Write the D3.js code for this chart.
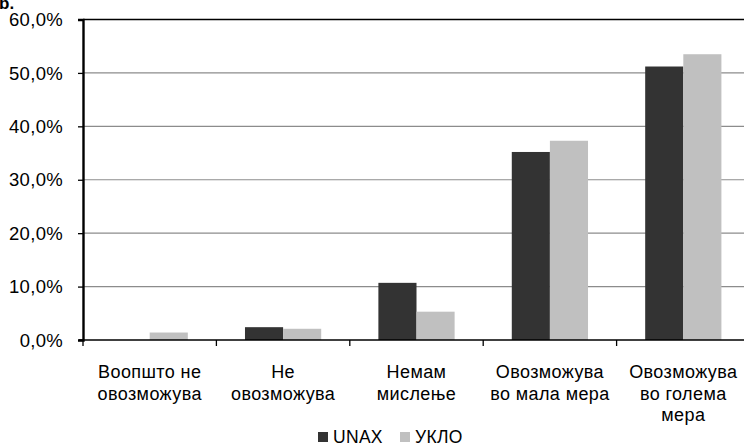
<!DOCTYPE html>
<html>
<head>
<meta charset="utf-8">
<script src="https://cdn.jsdelivr.net/npm/d3@7"></script>
<style>
  html, body { margin: 0; padding: 0; background: #fff; overflow: hidden; }
  svg { display: block; font-family: "Liberation Sans", Arial, sans-serif; }
</style>
</head>
<body>
<div id="chart"></div>
<script>
const categories = [
    ["Воопшто не", "овозможува"],
    ["Не", "овозможува"],
    ["Немам", "мислење"],
    ["Овозможува", "во мала мера"],
    ["Овозможува", "во голема", "мера"]
];
const seriesNames = ["UNAX", "УКЛО"];
const unax = [0, 2.4, 10.7, 35.2, 51.2];
const uklo = [1.4, 2.1, 5.3, 37.3, 53.5];
const yTicks = [0, 10, 20, 30, 40, 50, 60];
const colors = ["#333333", "#c0c0c0"];

const width = 744, height = 446;
const margin = {top: 19.5, left: 83, right: -6, bottom: 106};

const svg = d3.select("#chart").append("svg")
    .attr("width", width)
    .attr("height", height);

// caption cut off at the top left, as in the source
svg.append("text")
    .attr("x", -1).attr("y", 9)
    .style("font-size", "17px").attr("font-weight", "bold")
    .text("b.");

const x = d3.scaleBand()
    .domain(d3.range(categories.length))
    .range([margin.left, width - margin.right]);

const y = d3.scaleLinear()
    .domain([0, 60])
    .range([height - margin.bottom, margin.top]);

const x1 = d3.scaleBand()
    .domain(d3.range(seriesNames.length))
    .range([0, x.bandwidth()])
    .paddingInner(0)
    .paddingOuter(0.75);

// gridlines
svg.append("g")
    .selectAll("line")
    .data(yTicks.filter(t => t > 0 && t < 60))
    .join("line")
    .attr("x1", margin.left).attr("x2", width)
    .attr("y1", d => y(d)).attr("y2", d => y(d))
    .attr("stroke", "#8c8c8c").attr("stroke-width", 1.2);

// top border
svg.append("line")
    .attr("x1", margin.left).attr("x2", width)
    .attr("y1", y(60)).attr("y2", y(60))
    .attr("stroke", "#000").attr("stroke-width", 1.5);

// bars
const rows = [unax, uklo];
rows.forEach((vals, s) => {
    svg.append("g")
        .attr("fill", colors[s])
        .selectAll("rect")
        .data(vals)
        .join("rect")
        .attr("x", (d, i) => x(i) + x1(s))
        .attr("y", d => y(d))
        .attr("width", x1.bandwidth())
        .attr("height", d => y(0) - y(d));
});

// y axis (ticks from d3, labels drawn with the same scale)
const yAxis = svg.append("g")
    .attr("transform", `translate(${margin.left},0)`)
    .call(d3.axisLeft(y).tickValues(yTicks).tickSize(5).tickFormat(""));
yAxis.select(".domain").attr("stroke-width", 2.4);
yAxis.selectAll(".tick line").attr("stroke-width", 1.3);

svg.append("g")
    .attr("text-anchor", "end")
    .style("font-size", "18.5px")
    .style("letter-spacing", "0.3px")
    .selectAll("text")
    .data(yTicks)
    .join("text")
    .attr("x", margin.left - 20)
    .attr("y", d => y(d))
    .attr("dy", "0.36em")
    .text(d => d.toFixed(1).replace(".", ",") + "%");

// x axis
const xTickPos = d3.range(categories.length + 1).map(i => margin.left + i * x.bandwidth());
svg.append("line")
    .attr("x1", margin.left - 4).attr("x2", width)
    .attr("y1", y(0)).attr("y2", y(0))
    .attr("stroke", "#000").attr("stroke-width", 1.5);
svg.append("g")
    .selectAll("line")
    .data(xTickPos)
    .join("line")
    .attr("x1", d => d).attr("x2", d => d)
    .attr("y1", y(0)).attr("y2", y(0) + 6)
    .attr("stroke", "#000").attr("stroke-width", 1.3);

const labels = svg.append("g")
    .style("font-size", "18px")
    .style("letter-spacing", "0.4px")
    .attr("text-anchor", "middle");
categories.forEach((lines, i) => {
    const cx = x(i) + x.bandwidth() / 2;
    const t = labels.append("text")
        .attr("x", cx)
        .attr("y", y(0) + 38);
    lines.forEach((ln, k) => {
        t.append("tspan")
            .attr("x", cx)
            .attr("dy", k === 0 ? 0 : 21.5)
            .text(ln);
    });
});

// legend
const legend = svg.append("g").style("font-size", "17.5px").style("letter-spacing", "0.3px");
const legendX = [318, 400];
seriesNames.forEach((name, s) => {
    legend.append("rect")
        .attr("x", legendX[s]).attr("y", 432)
        .attr("width", 10).attr("height", 10)
        .attr("fill", colors[s]);
    legend.append("text")
        .attr("x", legendX[s] + 15).attr("y", 443)
        .text(name);
});
</script>
</body>
</html>
